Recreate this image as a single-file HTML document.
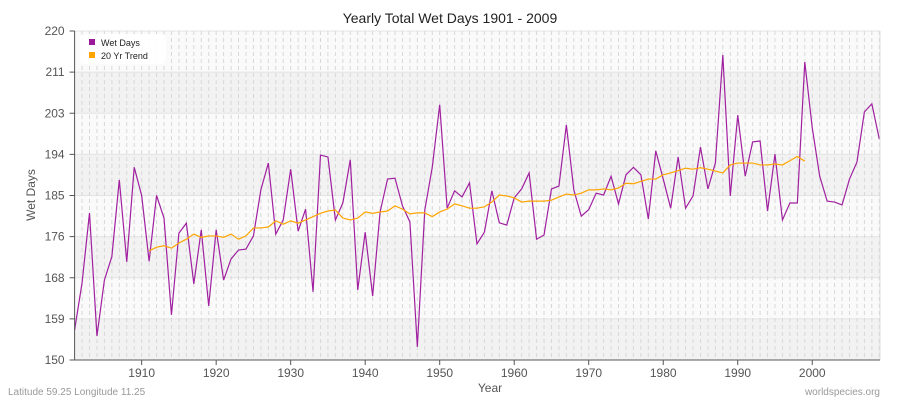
<!DOCTYPE html>
<html><head><meta charset="utf-8"><style>
body{margin:0;background:#fff;font-family:"Liberation Sans",sans-serif}
svg{display:block}
</style></head><body>
<svg id="chart" width="900" height="400">
<text x="450" y="23" text-anchor="middle" font-size="14" fill="#222">Yearly Total Wet Days 1901 - 2009</text>
<g id="bg"></g><g id="grid"></g><g id="series"></g><g id="axes"></g>
<text x="490" y="392" text-anchor="middle" font-size="12" fill="#555">Year</text>
<text x="35" y="195" text-anchor="middle" font-size="12" fill="#555" transform="rotate(-90 35 195)">Wet Days</text>
<text x="8" y="395" font-size="10" fill="#999">Latitude 59.25 Longitude 11.25</text>
<text x="880" y="395" text-anchor="end" font-size="10" fill="#999">worldspecies.org</text>
<g>
<rect x="80" y="34" width="86" height="30" rx="4" fill="#fff" opacity="0.9"/>
<rect x="89" y="39" width="6" height="6" fill="#9b1a9b"/>
<text x="101" y="46" font-size="9" fill="#222">Wet Days</text>
<rect x="89" y="52" width="6" height="6" fill="#ffa500"/>
<text x="101" y="59" font-size="9" fill="#222">20 Yr Trend</text>
</g>
</svg>
<script>
const startYear = 1901;
const wetDays = [156.4,166.4,181.3,155.1,167,172,188.3,170.9,191,185,171,185,180.2,159.6,177,179.1,166.2,177.7,161.5,177.7,
167,171.5,173.4,173.6,176.4,186.2,191.9,176.8,179.8,190.6,177.4,182.1,164.5,193.6,193.2,179.8,183.4,192.6,164.9,177.2,
163.6,181.5,188.5,188.7,182.8,179.4,152.8,181.9,191,204.3,182.3,186,184.7,187.7,174.7,177.2,186,179.2,178.7,184.5,
186.4,189.8,175.7,176.6,186.4,187,200,186.2,180.6,182,185.5,185.1,189.1,183.2,189.4,191,189.4,180,194.5,188.5,
182.3,193.2,182.3,184.9,195.3,186.4,191.9,214.9,184.9,202.1,189.1,196.4,196.6,181.7,193.8,179.8,183.4,183.4,213.4,199.4,
189.1,183.8,183.6,183,188.5,192.1,202.8,204.5,197];
const trendStart = 1911;
const trend = [173.2,174,174.3,173.8,174.9,175.7,176.8,176.1,176.4,176.4,176.1,176.8,175.7,176.4,178.1,178.1,178.3,179.6,178.9,179.6,
179.1,179.8,180.5,181.2,181.7,181.9,180.2,179.8,180.2,181.5,181.2,181.5,181.7,182.8,182.1,181.1,181.3,181.3,180.5,181.5,
182.1,183.2,182.8,182.3,182.3,182.6,183.6,185.1,184.9,184.5,183.6,183.8,183.8,183.8,184,184.7,185.3,185.1,185.5,186.2,
186.2,186.4,186.2,186.6,187.6,187.5,188,188.5,188.5,189.4,189.8,190.3,190.8,190.6,190.9,190.6,190.2,189.8,191.5,191.9,
191.9,191.9,191.5,191.5,191.7,191.5,192.4,193.3,192.3];
const yTicks = [150,159,168,176,185,194,203,211,220];
const xTicks = [1910,1920,1930,1940,1950,1960,1970,1980,1990,2000];
const L=74.6,R=880,T=31,B=360,yMin=150,yMax=220;
const X=yr=>L+(yr-1901)*7.451;
const Y=v=>B-(v-yMin)/(yMax-yMin)*(B-T);
const NS="http://www.w3.org/2000/svg";
function mk(p,tag,a){const e=document.createElementNS(NS,tag);for(const k in a)e.setAttribute(k,a[k]);p.appendChild(e);return e;}
const bg=document.getElementById('bg'),grid=document.getElementById('grid'),ser=document.getElementById('series'),ax=document.getElementById('axes');
mk(bg,'rect',{x:L,y:T,width:R-L,height:B-T,fill:'#fafafa'});
for(let i=0;i<8;i++){const y1=B-(i+1)*(B-T)/8,y0=B-i*(B-T)/8;
 if(i%2===0){const r=mk(bg,'rect',{x:L,y:y1,width:R-L,height:y0-y1,fill:'#f2f2f2'});
 
 }
 const g=mk(grid,'line',{x1:L,x2:R,y1:y1,y2:y1,stroke:'#e4e4e4','stroke-width':1});
 
 }
for(let yr=1902;yr<=2009;yr++){const l=mk(grid,'line',{x1:X(yr),x2:X(yr),y1:T,y2:B,stroke:'#d8d8d8','stroke-dasharray':'4,3','stroke-width':1});
 
 }
mk(ax,'line',{x1:R,x2:R,y1:T,y2:B,stroke:'#ddd'});
mk(ax,'line',{x1:L,x2:L,y1:T,y2:B,stroke:'#555'});
mk(ax,'line',{x1:L,x2:R,y1:B,y2:B,stroke:'#555'});
yTicks.forEach((v,i)=>{const y=B-i*(B-T)/8;
 mk(ax,'line',{x1:L-5,x2:L,y1:y,y2:y,stroke:'#555'});
 const t=mk(ax,'text',{x:L-10,y:y+4,'text-anchor':'end','font-size':12,fill:'#555'});t.textContent=v;
 
 });
xTicks.forEach(v=>{const x=X(v);
 mk(ax,'line',{x1:x,x2:x,y1:B,y2:B+5,stroke:'#555'});
 const t=mk(ax,'text',{x:x,y:B+17,'text-anchor':'middle','font-size':12,fill:'#555'});t.textContent=v;
 
 });
const p1=mk(ser,'polyline',{points:wetDays.map((v,i)=>X(startYear+i)+','+Y(v)).join(' '),fill:'none',stroke:'#a020a0','stroke-width':1.2});


const p2=mk(ser,'polyline',{points:trend.map((v,i)=>X(trendStart+i)+','+Y(v)).join(' '),fill:'none',stroke:'#ffa500','stroke-width':1.2});


</script>
</body></html>
